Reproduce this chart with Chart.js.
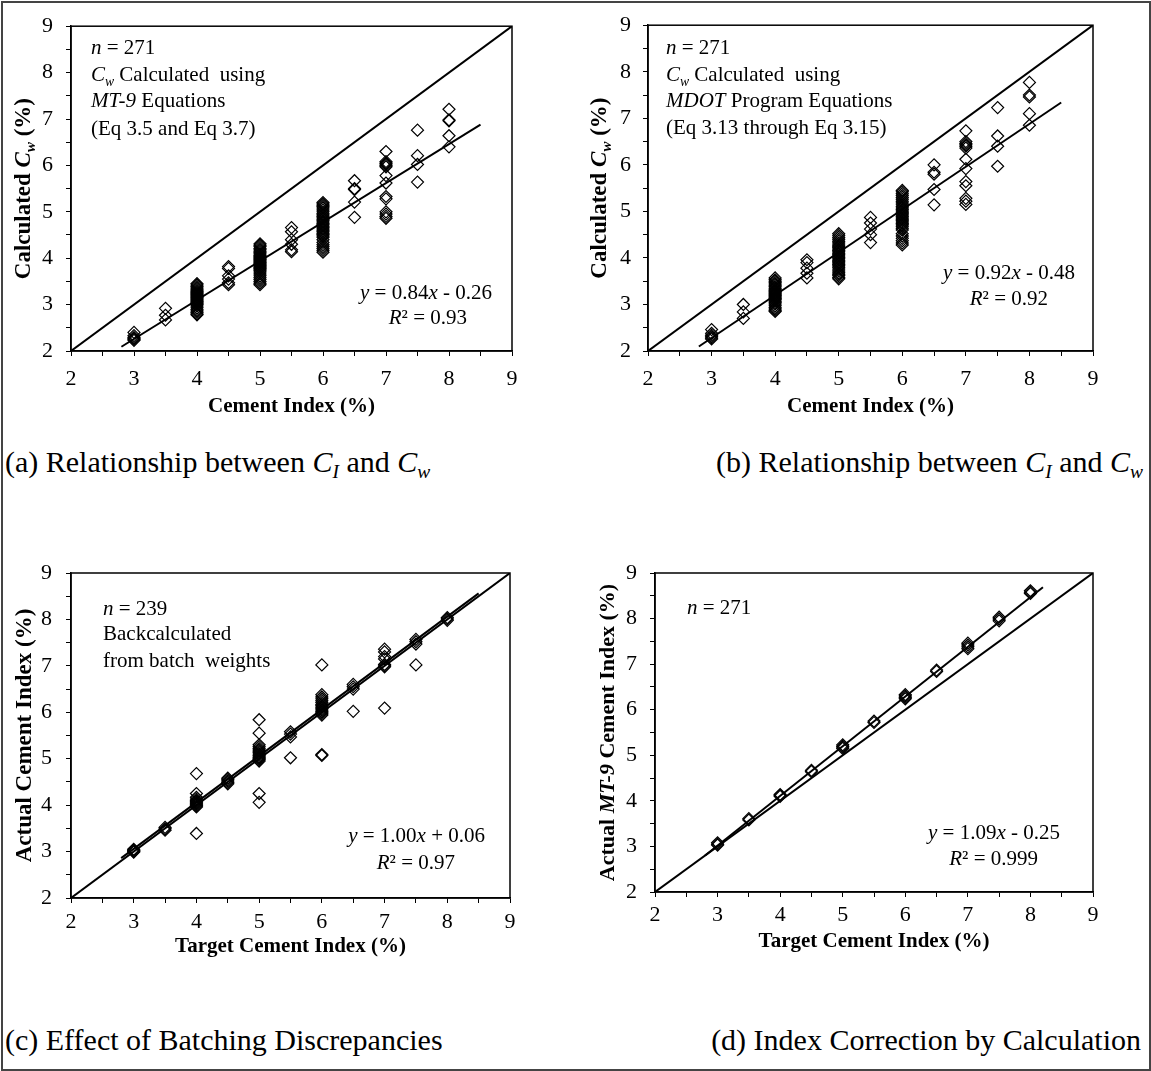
<!DOCTYPE html>
<html>
<head>
<meta charset="utf-8">
<title>Cement index relationships</title>
<script src="https://cdn.jsdelivr.net/npm/chart.js"></script>
<style>
  body { margin: 0; background: #fff; }
  #fig { position: relative; width: 1151px; height: 1071px; font-family: "Liberation Serif", "Times New Roman", serif; color: #000; }
  #frame { position: absolute; left: 1px; top: 1px; width: 1146px; height: 1066px; border: 2px solid #444; }
  canvas { position: absolute; }
  .cap { position: absolute; font-size: 30px; line-height: 34px; white-space: nowrap; }
  .cap sub { font-size: 0.65em; vertical-align: -0.3em; line-height: 0; }
</style>
</head>
<body>
<div id="fig">
  <div id="frame"></div>
  <canvas id="pa" width="575" height="420" style="left:0;top:0"></canvas>
  <canvas id="pb" width="576" height="420" style="left:575px;top:0"></canvas>
  <canvas id="pc" width="575" height="440" style="left:0;top:520px"></canvas>
  <canvas id="pd" width="576" height="440" style="left:575px;top:520px"></canvas>
  <div class="cap" style="left:5px;top:445px">(a) Relationship between <i>C</i><sub><i>I</i></sub> and <i>C</i><sub><i>w</i></sub></div>
  <div class="cap" style="right:8px;top:445px">(b) Relationship between <i>C</i><sub><i>I</i></sub> and <i>C</i><sub><i>w</i></sub></div>
  <div class="cap" style="left:5px;top:1023px">(c) Effect of Batching Discrepancies</div>
  <div class="cap" style="right:10px;top:1023px">(d) Index Correction by Calculation</div>
</div>
<script>
// target cement index groups (x) and the readings for each group
const targetIndex = [3, 3.5, 4, 4.5, 5, 5.5, 6, 6.5, 7, 7.5, 8]
const axisTicks = [2, 3, 4, 5, 6, 7, 8, 9]

// (a) Cw from MT-9 equations
const cwMt9 = [
  [2.40, 2.33, 2.29, 2.27, 2.25, 2.23],
  [2.92, 2.77, 2.67],
  [3.45, 3.42, 3.39, 3.36, 3.33, 3.30, 3.28, 3.26, 3.24, 3.22, 3.20, 3.18, 3.16, 3.14, 3.12, 3.10, 3.08, 3.06, 3.04, 3.02, 3.00, 2.97, 2.93, 2.89, 2.86, 2.83, 2.80, 2.78],
  [3.82, 3.78, 3.62, 3.55, 3.47, 3.43],
  [4.31, 4.28, 4.25, 4.21, 4.18, 4.15, 4.12, 4.09, 4.06, 4.04, 4.02, 4.00, 3.98, 3.96, 3.94, 3.92, 3.90, 3.88, 3.86, 3.84, 3.82, 3.80, 3.78, 3.76, 3.73, 3.70, 3.66, 3.62, 3.58, 3.54, 3.50, 3.46, 3.43],
  [4.66, 4.57, 4.40, 4.30, 4.18, 4.14],
  [5.20, 5.17, 5.14, 5.11, 5.08, 5.04, 5.00, 4.96, 4.93, 4.90, 4.87, 4.84, 4.81, 4.78, 4.75, 4.72, 4.69, 4.66, 4.63, 4.60, 4.57, 4.54, 4.51, 4.48, 4.45, 4.40, 4.34, 4.29, 4.25, 4.21, 4.17, 4.13],
  [5.67, 5.50, 5.48, 5.21, 4.88],
  [6.30, 6.08, 6.05, 6.03, 6.00, 5.97, 5.78, 5.62, 5.33, 5.28, 5.00, 4.95, 4.90, 4.86],
  [6.76, 6.21, 6.02, 5.64],
  [7.21, 6.98, 6.96, 6.64, 6.40]
]

// (b) Cw from MDOT program equations
const cwMdot = [
  [2.46, 2.38, 2.34, 2.31, 2.28, 2.26],
  [3.00, 2.84, 2.70],
  [3.57, 3.53, 3.50, 3.47, 3.44, 3.41, 3.38, 3.35, 3.32, 3.30, 3.28, 3.26, 3.24, 3.22, 3.20, 3.18, 3.16, 3.14, 3.12, 3.10, 3.07, 3.04, 3.01, 2.97, 2.93, 2.90, 2.87, 2.85],
  [3.96, 3.90, 3.78, 3.67, 3.57],
  [4.52, 4.48, 4.44, 4.40, 4.36, 4.32, 4.28, 4.25, 4.22, 4.19, 4.16, 4.13, 4.10, 4.07, 4.04, 4.01, 3.98, 3.95, 3.92, 3.89, 3.86, 3.83, 3.80, 3.76, 3.72, 3.68, 3.65, 3.62, 3.58, 3.55],
  [4.87, 4.75, 4.62, 4.50, 4.33],
  [5.45, 5.42, 5.38, 5.34, 5.30, 5.26, 5.22, 5.18, 5.14, 5.10, 5.07, 5.04, 5.01, 4.98, 4.95, 4.92, 4.89, 4.86, 4.83, 4.80, 4.77, 4.74, 4.71, 4.68, 4.64, 4.60, 4.52, 4.47, 4.42, 4.37, 4.32, 4.28],
  [6.00, 5.84, 5.80, 5.47, 5.14],
  [6.73, 6.50, 6.46, 6.43, 6.40, 6.36, 6.12, 5.92, 5.64, 5.55, 5.28, 5.22, 5.15],
  [7.23, 6.62, 6.40, 5.97],
  [7.77, 7.50, 7.46, 7.10, 6.85]
]

// (c) index backcalculated from batch weights
const actualIndex = [
  [3.05, 3.03, 3.02, 3.00, 2.99],
  [3.52, 3.49, 3.46],
  [4.68, 4.25, 4.17, 4.13, 4.10, 4.08, 4.06, 4.04, 4.02, 4.00, 3.98, 3.96, 3.39],
  [4.58, 4.55, 4.52, 4.49, 4.46],
  [5.84, 5.55, 5.30, 5.26, 5.22, 5.19, 5.16, 5.13, 5.10, 5.07, 5.04, 5.02, 5.00, 4.98, 4.95, 4.25, 4.06],
  [5.58, 5.53, 5.47, 5.02],
  [7.02, 6.38, 6.33, 6.29, 6.25, 6.21, 6.17, 6.14, 6.11, 6.08, 6.05, 6.02, 6.00, 5.97, 5.94, 5.09, 5.07],
  [6.60, 6.55, 6.50, 6.02],
  [7.36, 7.30, 7.20, 7.15, 7.03, 7.00, 6.98, 6.09],
  [7.57, 7.52, 7.47, 7.02],
  [8.04, 8.01, 7.98]
]

// (d) actual MT-9 index after correction
const actualMt9Index = [
  [3.08, 3.05, 3.03],
  [3.61, 3.58],
  [4.14, 4.12, 4.10],
  [4.67, 4.64],
  [5.23, 5.20, 5.18, 5.15],
  [5.75, 5.72],
  [6.33, 6.30, 6.27, 6.24],
  [6.87, 6.84],
  [7.46, 7.42, 7.38, 7.34],
  [8.03, 7.99, 7.95],
  [8.61, 8.58, 8.55]
]

// trend lines as reported on each panel
const fitMt9 = { slope: 0.84, intercept: -0.26, r2: '0.93', from: 2.8, to: 8.5 }
const fitMdot = { slope: 0.92, intercept: -0.48, r2: '0.92', from: 2.8, to: 8.5 }
const fitBatch = { slope: 1.00, intercept: 0.06, r2: '0.97', from: 2.8, to: 8.5 }
const fitCorrected = { slope: 1.09, intercept: -0.25, r2: '0.999', from: 2.8, to: 8.2 }

const FONT = '"Liberation Serif", "Times New Roman", serif'

// draws a line of mixed text: each run is [text, flags], flags: b=bold i=italic s=subscript
function drawRuns(ctx, runs, x, y, size, align, rotate) {
  const fontOf = f => (f.includes('i') ? 'italic ' : '') + (f.includes('b') ? 'bold ' : '') +
    (f.includes('s') ? size * 0.65 : size) + 'px ' + FONT
  let total = 0
  const widths = runs.map(([t, f]) => {
    ctx.font = fontOf(f)
    const w = ctx.measureText(t).width
    total += w
    return w
  })
  ctx.save()
  ctx.translate(x, y)
  if (rotate) ctx.rotate(rotate)
  ctx.textAlign = 'left'
  ctx.textBaseline = 'alphabetic'
  ctx.fillStyle = '#000'
  let cx = align === 'center' ? -total / 2 : align === 'right' ? -total : 0
  runs.forEach(([t, f], i) => {
    ctx.font = fontOf(f)
    ctx.fillText(t, cx, size * 0.33 + (f.includes('s') ? size * 0.22 : 0))
    cx += widths[i]
  })
  ctx.restore()
}

function fitRuns(fit) {
  const sign = fit.intercept < 0 ? ' - ' : ' + '
  return [['y', 'i'], [' = ' + fit.slope.toFixed(2), ''], ['x', 'i'], [sign + Math.abs(fit.intercept).toFixed(2), '']]
}

function panelText(items) {
  return {
    id: 'panelText',
    afterDraw(chart) {
      const { ctx, chartArea: a } = chart
      ctx.save()
      ctx.strokeStyle = '#000'
      ctx.lineWidth = 1.5
      ctx.strokeRect(a.left, a.top, a.right - a.left, a.bottom - a.top)
      ctx.restore()
      items.forEach(it => {
        const [x, y] = it.at(a)
        drawRuns(ctx, it.runs, x, y, it.size || 21, it.align || 'left', it.rotate)
      })
    }
  }
}

function makePanel(id, box, values, fit, items) {
  const points = targetIndex.flatMap((x, i) => values[i].map(y => ({ x, y })))
  const lo = axisTicks[0], hi = axisTicks[axisTicks.length - 1]
  const identity = [lo, hi].map(v => ({ x: v, y: v }))
  const trend = [fit.from, fit.to].map(x => ({ x, y: fit.slope * x + fit.intercept }))

  const axis = (tickPad, fitFn) => ({
    type: 'linear', min: lo, max: hi,
    afterFit: fitFn,
    ticks: {
      stepSize: 0.5, autoSkip: false, maxRotation: 0, color: '#000', padding: tickPad,
      font: { family: FONT, size: 22 },
      callback: v => axisTicks.includes(v) ? String(v) : ''
    },
    grid: { drawOnChartArea: false, tickLength: 5, color: '#000', lineWidth: 1 },
    border: { color: '#000', width: 1.5 }
  })

  new Chart(document.getElementById(id), {
    type: 'scatter',
    data: {
      datasets: [
        { data: identity, type: 'line', showLine: true, borderColor: '#000', borderWidth: 2, pointRadius: 0, fill: false, order: 0 },
        { data: trend, type: 'line', showLine: true, borderColor: '#000', borderWidth: 2, pointRadius: 0, fill: false, order: 0 },
        {
          data: points, order: 1,
          pointStyle: 'rectRot', pointRadius: 6, pointBorderWidth: 1.2,
          pointBorderColor: '#000', pointBackgroundColor: 'rgba(0,0,0,0)'
        }
      ]
    },
    options: {
      responsive: false,
      animation: false,
      devicePixelRatio: 1,
      layout: { padding: box.pad },
      plugins: { legend: { display: false }, tooltip: { enabled: false } },
      scales: {
        x: axis(box.xTickPad, s => { s.height = box.xh }),
        y: axis(box.yTickPad, s => { s.width = box.yw })
      }
    },
    plugins: [panelText(items)]
  })
}

const mid = (a, b) => (a + b) / 2
const UP = -Math.PI / 2

makePanel('pa', { pad: { left: 0, top: 25, right: 63, bottom: 0 }, yw: 71, xh: 69, xTickPad: 10, yTickPad: 13 }, cwMt9, fitMt9, [
  { runs: [['Calculated ', 'b'], ['C', 'bi'], ['w', 'bis'], [' (%)', 'b']], size: 23, align: 'center', rotate: UP, at: a => [a.left - 49, mid(a.top, a.bottom)] },
  { runs: [['Cement Index (%)', 'b']], align: 'center', at: a => [mid(a.left, a.right), a.bottom + 54] },
  { runs: [['n', 'i'], [' = 271', '']], at: a => [a.left + 20, a.top + 21] },
  { runs: [['C', 'i'], ['w', 'is'], [' Calculated  using', '']], at: a => [a.left + 20, a.top + 48] },
  { runs: [['MT-9', 'i'], [' Equations', '']], at: a => [a.left + 20, a.top + 74] },
  { runs: [['(Eq 3.5 and Eq 3.7)', '']], at: a => [a.left + 20, a.top + 102] },
  { runs: fitRuns(fitMt9), align: 'right', at: a => [a.right - 20, a.bottom - 59] },
  { runs: [['R', 'i'], ['\u00b2 = ' + fitMt9.r2, '']], align: 'right', at: a => [a.right - 45, a.bottom - 34] }
])

makePanel('pb', { pad: { left: 0, top: 25, right: 58, bottom: 0 }, yw: 73, xh: 69, xTickPad: 10, yTickPad: 12 }, cwMdot, fitMdot, [
  { runs: [['Calculated ', 'b'], ['C', 'bi'], ['w', 'bis'], [' (%)', 'b']], size: 23, align: 'center', rotate: UP, at: a => [a.left - 50, mid(a.top, a.bottom)] },
  { runs: [['Cement Index (%)', 'b']], align: 'center', at: a => [mid(a.left, a.right), a.bottom + 54] },
  { runs: [['n', 'i'], [' = 271', '']], at: a => [a.left + 18, a.top + 22] },
  { runs: [['C', 'i'], ['w', 'is'], [' Calculated  using', '']], at: a => [a.left + 18, a.top + 49] },
  { runs: [['MDOT', 'i'], [' Program Equations', '']], at: a => [a.left + 18, a.top + 75] },
  { runs: [['(Eq 3.13 through Eq 3.15)', '']], at: a => [a.left + 18, a.top + 102] },
  { runs: fitRuns(fitMdot), align: 'right', at: a => [a.right - 18, a.bottom - 79] },
  { runs: [['R', 'i'], ['\u00b2 = ' + fitMdot.r2, '']], align: 'right', at: a => [a.right - 45, a.bottom - 53] }
])

makePanel('pc', { pad: { left: 0, top: 53, right: 65, bottom: 0 }, yw: 71, xh: 62, xTickPad: 6, yTickPad: 14 }, actualIndex, fitBatch, [
  { runs: [['Actual Cement Index (%)', 'b']], size: 23, align: 'center', rotate: UP, at: a => [a.left - 48, mid(a.top, a.bottom)] },
  { runs: [['Target Cement Index (%)', 'b']], align: 'center', at: a => [mid(a.left, a.right), a.bottom + 47] },
  { runs: [['n', 'i'], [' = 239', '']], at: a => [a.left + 32, a.top + 35] },
  { runs: [['Backcalculated', '']], at: a => [a.left + 32, a.top + 60] },
  { runs: [['from batch  weights', '']], at: a => [a.left + 32, a.top + 87] },
  { runs: fitRuns(fitBatch), align: 'right', at: a => [a.right - 25, a.bottom - 63] },
  { runs: [['R', 'i'], ['\u00b2 = ' + fitBatch.r2, '']], align: 'right', at: a => [a.right - 55, a.bottom - 36] }
])

makePanel('pd', { pad: { left: 0, top: 53, right: 58, bottom: 0 }, yw: 80, xh: 68, xTickPad: 5, yTickPad: 13 }, actualMt9Index, fitCorrected, [
  { runs: [['Actual ', 'b'], ['MT-9', 'bi'], [' Cement Index (%)', 'b']], size: 22, align: 'center', rotate: UP, at: a => [a.left - 48, mid(a.top, a.bottom)] },
  { runs: [['Target Cement Index (%)', 'b']], align: 'center', at: a => [mid(a.left, a.right), a.bottom + 48] },
  { runs: [['n', 'i'], [' = 271', '']], at: a => [a.left + 32, a.top + 34] },
  { runs: fitRuns(fitCorrected), align: 'right', at: a => [a.right - 33, a.bottom - 60] },
  { runs: [['R', 'i'], ['\u00b2 = ' + fitCorrected.r2, '']], align: 'right', at: a => [a.right - 55, a.bottom - 34] }
])
</script>
</body>
</html>
